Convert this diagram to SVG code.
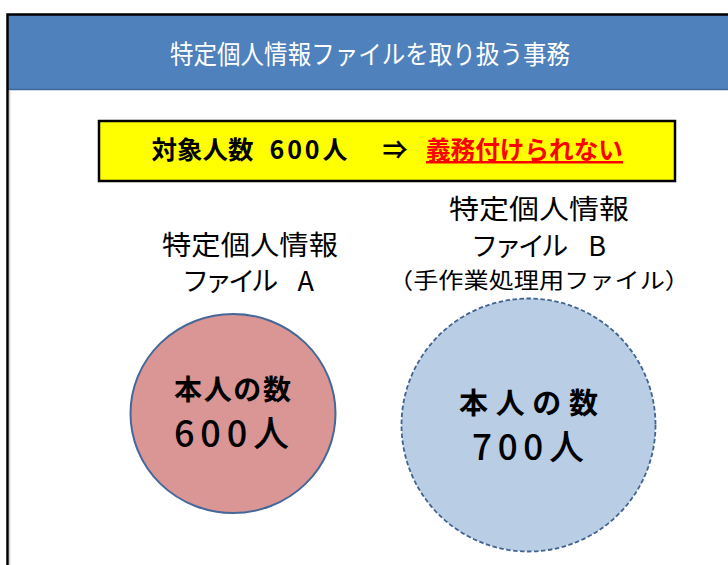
<svg xmlns="http://www.w3.org/2000/svg" width="728" height="565" viewBox="0 0 728 565">
  <style>
    text { font-family: "Noto Sans CJK JP", "Noto Sans", sans-serif; }
    .title { fill: #FFFFFF; font-size: 26px; text-anchor: middle; }
    .cond { fill: #000000; font-size: 25px; font-weight: 700; text-anchor: middle; }
    .warn { fill: #FF0000; text-decoration: underline; }
    .label { fill: #000000; font-size: 27px; text-anchor: middle; }
    .sub { font-size: 22px; }
    .count1 { fill: #000000; font-size: 28px; font-weight: 700; text-anchor: middle; }
    .count2 { fill: #000000; font-size: 36px; font-weight: 500; text-anchor: middle; }
  </style>
  <rect x="0" y="0" width="728" height="565" fill="#FFFFFF"/>

  <g id="frame">
    <rect x="7" y="15" width="721" height="75" fill="#4F81BD"/>
    <line x1="7" y1="89.5" x2="728" y2="89.5" stroke="#3E6799" stroke-width="1.5"/>
    <line x1="9.8" y1="91" x2="9.8" y2="565" stroke="#BFBFBF" stroke-width="1"/>
    <path d="M7.5 565 V14.5 H728" fill="none" stroke="#000000" stroke-width="2.5"/>
  </g>

  <g id="title">
    <text class="title" x="370" y="64" textLength="400" lengthAdjust="spacingAndGlyphs">特定個人情報ファイルを取り扱う事務</text>
  </g>

  <g id="condition">
    <rect x="99" y="121" width="576" height="60" fill="#FFFF00" stroke="#000000" stroke-width="2.5"/>
    <text class="cond" x="202.5" y="159" textLength="102" lengthAdjust="spacingAndGlyphs">対象人数</text>
    <text class="cond" x="308.5" y="159" textLength="78" lengthAdjust="spacing">600人</text>
    <text class="cond" x="395" y="159">⇒</text>
    <text class="cond warn" x="524.5" y="159" textLength="197" lengthAdjust="spacingAndGlyphs">義務付けられない</text>
  </g>

  <g id="label-a">
    <text class="label" x="250" y="255" textLength="176" lengthAdjust="spacingAndGlyphs">特定個人情報</text>
    <text class="label" x="248" y="291" textLength="132" lengthAdjust="spacing">ファイル　A</text>
  </g>

  <g id="label-b">
    <text class="label" x="539" y="219" textLength="180" lengthAdjust="spacingAndGlyphs">特定個人情報</text>
    <text class="label" x="538.5" y="255.5" textLength="135" lengthAdjust="spacing">ファイル　B</text>
    <text class="label sub" x="539" y="287.5" textLength="302" lengthAdjust="spacingAndGlyphs">（手作業処理用ファイル）</text>
  </g>

  <g id="circle-a">
    <ellipse cx="233" cy="413.5" rx="102.5" ry="99.5" fill="#D99694" stroke="#45679A" stroke-width="2"/>
    <text class="count1" x="232.5" y="400" textLength="117" lengthAdjust="spacing">本人の数</text>
    <text class="count2" x="231.5" y="447" textLength="115" lengthAdjust="spacing">600人</text>
  </g>

  <g id="circle-b">
    <ellipse cx="528.5" cy="425" rx="127" ry="126.5" fill="#B9CDE5" stroke="#41648F" stroke-width="1.8" stroke-dasharray="4.5 2.5"/>
    <text class="count1" x="528.5" y="414" textLength="139" lengthAdjust="spacing" style="font-size:29px">本人の数</text>
    <text class="count2" x="528" y="460" textLength="112" lengthAdjust="spacing" style="font-size:35px">700人</text>
  </g>
</svg>
